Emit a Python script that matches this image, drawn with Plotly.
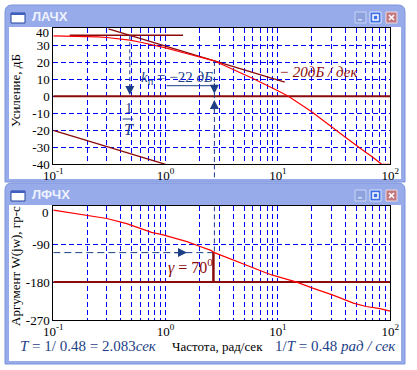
import math
import plotly.graph_objects as go

W, H = 417, 370


def px(x):
    return x / W


def py(y):
    return 1 - y / H


# ---------------- data ----------------
mag_w = [0.1, 0.15, 0.2, 0.25, 0.3, 0.4, 0.48, 0.6, 0.8, 1.0, 1.5, 2.0, 2.72, 3.3, 4.0,
         5.0, 6.0, 8.0, 10.0, 12.4, 15.0, 20.0, 25.0, 31.0, 41.0, 54.0, 70.0, 84.0, 100.0]
mag_db = [35.6, 35.5, 35.3, 35.0, 34.6, 33.8, 33.0, 31.8, 30.0, 28.5, 25.3, 23.1, 20.8, 18.3, 15.6,
          12.8, 10.5, 6.6, 3.3, 0.0, -3.6, -9.1, -14.0, -18.8, -24.7, -30.6, -35.8, -40.0, -40.0]

ph_w = [0.1, 0.2, 0.3, 0.45, 0.6, 0.75, 0.95, 1.2, 1.55, 2.0, 2.5, 2.72, 3.3, 4.0, 5.0,
        6.0, 7.5, 8.8, 11.0, 14.7, 20.7, 31.0, 47.0, 61.0, 81.0, 100.0]
ph_deg = [-9, -21, -29, -41, -52, -62, -68, -76, -84, -95, -104, -110, -119, -128, -139,
          -147, -156, -163, -171, -180, -195, -211, -230, -238, -243, -249]

lf_asym_w = [0.14, 1.43]
lf_asym_db = [35.9, 35.9]
hf_asym_w = [0.31, 11.5]
hf_asym_db = [39.6, 8.3]
ref_w = [0.1, 1.0]
ref_db = [-20.0, -40.0]
full_w = [0.1, 100.0]
zero_db = [0.0, 0.0]
pi_deg = [-180.0, -180.0]

w_T = 0.48      # 1/T
w_c = 2.72      # crossover frequency
phase_c = -110  # phase at w_c
gamma = 70
k_p = -22

mag_ticks = [-40, -30, -20, -10, 0, 10, 20, 30, 40]
ph_ticks = [-270, -180, -90, 0]
decades = [0.1, 1, 10, 100]
decade_labels = ["10<sup>-1</sup>", "10<sup>0</sup>", "10<sup>1</sup>", "10<sup>2</sup>"]

# ---------------- colours / fonts ----------------
RED = "#ff0000"
DRED = "#8b0a0a"
NAVY = "#1d3f86"
GRID = "#0000ff"
FRAME = "#97abea"
FRAME_LINE = "#7d93dc"
SERIF = "Liberation Serif"
SANS = "Liberation Sans"

# layout geometry (pixels)
PX0, PX1 = 53.3, 390.2
TOP_Y0, TOP_Y1 = 28.3, 164.3
BOT_Y0, BOT_Y1 = 206.3, 320.0

# log grid values
grid_vals = []
for d in [0.1, 1, 10]:
    for m in range(1, 10):
        grid_vals.append(round(d * m, 6))
grid_vals.append(100)
grid_text = []
for v in grid_vals:
    if v in decades:
        grid_text.append(decade_labels[decades.index(v)])
    else:
        grid_text.append("")

fig = go.Figure()

# ---------------- top plot traces ----------------
fig.add_trace(go.Scatter(x=full_w, y=zero_db, mode="lines", line=dict(color=DRED, width=2),
                         xaxis="x", yaxis="y"))
fig.add_trace(go.Scatter(x=ref_w, y=ref_db, mode="lines", line=dict(color=DRED, width=1.3),
                         xaxis="x", yaxis="y"))
fig.add_trace(go.Scatter(x=lf_asym_w, y=lf_asym_db, mode="lines", line=dict(color=DRED, width=1.3),
                         xaxis="x", yaxis="y"))
fig.add_trace(go.Scatter(x=hf_asym_w, y=hf_asym_db, mode="lines", line=dict(color=DRED, width=1.3),
                         xaxis="x", yaxis="y"))
fig.add_trace(go.Scatter(x=mag_w, y=mag_db, mode="lines", line=dict(color=RED, width=1.2),
                         xaxis="x", yaxis="y"))
# 1/T marker
fig.add_trace(go.Scatter(x=[w_T, w_T], y=[lf_asym_db[0], 3], mode="lines",
                         line=dict(color=NAVY, width=1, dash="4px,3px"), xaxis="x", yaxis="y"))
# crossover marker (top)
fig.add_trace(go.Scatter(x=[w_c, w_c], y=[20.8, -40], mode="lines",
                         line=dict(color=NAVY, width=1, dash="5px,3px"), xaxis="x", yaxis="y"))

# ---------------- bottom plot traces ----------------
fig.add_trace(go.Scatter(x=full_w, y=pi_deg, mode="lines", line=dict(color=DRED, width=2),
                         xaxis="x2", yaxis="y2"))
fig.add_trace(go.Scatter(x=[full_w[0], w_c], y=[phase_c, phase_c], mode="lines",
                         line=dict(color=NAVY, width=1, dash="7px,4px"), xaxis="x2", yaxis="y2"))
fig.add_trace(go.Scatter(x=[w_c, w_c], y=[0, phase_c], mode="lines",
                         line=dict(color=NAVY, width=1, dash="5px,3px"), xaxis="x2", yaxis="y2"))
fig.add_trace(go.Scatter(x=[w_c * 0.98, w_c * 0.98], y=[phase_c, -180], mode="lines",
                         line=dict(color=DRED, width=2.5), xaxis="x2", yaxis="y2"))
fig.add_trace(go.Scatter(x=ph_w, y=ph_deg, mode="lines", line=dict(color=RED, width=1.2),
                         xaxis="x2", yaxis="y2"))

# ---------------- axes ----------------
xd = [px(PX0), px(PX1)]
common_x = dict(type="log", range=[-1, 2], tickmode="array", tickvals=grid_vals, ticktext=grid_text,
                showgrid=True, gridcolor=GRID, gridwidth=1, griddash="5px,3px",
                showline=True, mirror=True, linecolor="black", linewidth=1, ticks="",
                zeroline=False, tickfont=dict(family=SERIF, size=13, color="black"), domain=xd,
                automargin=False, ticklabelstandoff=-1)
common_y = dict(showgrid=True, gridcolor=GRID, griddash="5px,3px", showline=True, mirror=True,
                linecolor="black", linewidth=1, ticks="", zeroline=False, automargin=False,
                tickfont=dict(family=SERIF, size=13, color="black"), tickmode="array")
fig.update_layout(
    xaxis=dict(common_x, anchor="y"),
    xaxis2=dict(common_x, anchor="y2"),
    yaxis=dict(common_y, range=[-40, 40], domain=[py(TOP_Y1), py(TOP_Y0)],
               tickvals=mag_ticks, ticktext=[str(v) if v != 40 else "" for v in mag_ticks], anchor="x"),
    yaxis2=dict(common_y, range=[-270, 0], domain=[py(BOT_Y1), py(BOT_Y0)],
                tickvals=ph_ticks, ticktext=[str(v) if v != 0 else "" for v in ph_ticks], anchor="x2"),
    width=W, height=H, autosize=False, margin=dict(l=0, r=0, t=0, b=0, autoexpand=False),
    paper_bgcolor="white", plot_bgcolor="white", showlegend=False,
)

# ---------------- window chrome ----------------
shapes = []


def rect(x0, y0, x1, y1, fill, line=None, lw=1, layer="below"):
    return dict(type="rect", xref="paper", yref="paper", x0=px(x0), x1=px(x1), y0=py(y1), y1=py(y0),
                fillcolor=fill, line=dict(color=line if line else fill, width=lw if line else 0),
                layer=layer)


def seg(x0, y0, x1, y1, color, width=1, dash="solid", layer="above"):
    return dict(type="line", xref="paper", yref="paper", x0=px(x0), x1=px(x1), y0=py(y0), y1=py(y1),
                line=dict(color=color, width=width, dash=dash), layer=layer)


def window(y0, y1, title_h):
    x0, x1, r = 5, 405, 7
    path = (f"M {px(x0)},{py(y1)} L {px(x0)},{py(y0 + r)} Q {px(x0)},{py(y0)} {px(x0 + r)},{py(y0)} "
            f"L {px(x1 - r)},{py(y0)} Q {px(x1)},{py(y0)} {px(x1)},{py(y0 + r)} L {px(x1)},{py(y1)} Z")
    s = [dict(type="path", xref="paper", yref="paper", path=path, fillcolor=FRAME,
              line=dict(color=FRAME_LINE, width=1), layer="below"),
         rect(9, y0 + title_h, 401, y1 - 3, "white")]
    # icon
    s.append(rect(11, y0 + 8, 25, y0 + 18, "white", "#23439f", 1))
    s.append(rect(11, y0 + 8, 25, y0 + 10, "#3f5fbf"))
    # buttons
    by0, by1 = y0 + 7, y0 + 18
    s.append(rect(355, by0, 366, by1, "#8ea2de", "#c9d4f3", 1))
    s.append(rect(358, by1 - 4, 362, by1 - 2.5, "#d9e1f7"))
    s.append(rect(370, by0, 381, by1, "#3f6fe4", "#dfe7ff", 1))
    s.append(dict(type="rect", xref="paper", yref="paper", x0=px(373), x1=px(378), y0=py(by1 - 3),
                  y1=py(by0 + 3), line=dict(color="white", width=1.5), layer="below"))
    s.append(rect(386, by0, 397, by1, "#c4787f", "#efd9dc", 1))
    s.append(seg(389, by0 + 3, 394, by1 - 3, "white", 1.6, layer="below"))
    s.append(seg(389, by1 - 3, 394, by0 + 3, "white", 1.6, layer="below"))
    return s


shapes += window(5, 182, 22)
shapes += window(183, 364, 22)

# crossover dashed line continues below top plot
xc = xd[0] + (math.log10(w_c) + 1) / 3 * (xd[1] - xd[0])
shapes.append(dict(type="line", xref="paper", yref="paper", x0=xc, x1=xc, y0=py(TOP_Y1), y1=py(180),
                   line=dict(color=NAVY, width=1, dash="5px,3px"), layer="above"))
# fraction bar of 1/T
shapes.append(seg(122.7, 119, 133.3, 119, NAVY, 1))
# underline of k_p expression
shapes.append(seg(166.7, 85.7, 213.3, 85.7, NAVY, 1))

fig.update_layout(shapes=shapes)

# ---------------- annotations ----------------
ann = []


def text(x, y, t, size=13, color="black", family=SERIF, xanchor="center", angle=0, yanchor="middle"):
    ann.append(dict(x=px(x), y=py(y), xref="paper", yref="paper", text=t, showarrow=False,
                    font=dict(size=size, color=color, family=family), xanchor=xanchor,
                    yanchor=yanchor, textangle=angle))


def arrow(xref, yref, x, y, ax, ay, color=NAVY):
    ann.append(dict(x=x, y=y, xref=xref, yref=yref, ax=ax, ay=ay, text="", showarrow=True,
                    arrowhead=2, arrowsize=1.5, arrowwidth=1.2, arrowcolor=color))


# window titles
text(30, 16.5, "<b>ЛАЧХ</b>", 13, "#eef2fd", SANS, "left")
text(30, 194.5, "<b>ЛФЧХ</b>", 13, "#eef2fd", SANS, "left")

# top-limit tick labels (drawn inside the frame like the original)
text(51, 33, str(mag_ticks[-1]), 13, "black", SERIF, "right")
text(51, 212, str(ph_ticks[-1]), 13, "black", SERIF, "right")

# axis titles
text(15, 91, "Усиление, дБ", 13, "black", SERIF, "center", -90)
text(15, 266, "Аргумент W(jw), гр-с", 13, "black", SERIF, "center", -90)

text(318, 72, "<i>− 20дБ / дек</i>", 15, DRED, SERIF)
text(177, 78, f"<i>k</i><sub>п</sub> = −{abs(k_p)} <i>дБ</i>", 15, NAVY, SERIF)
text(128.7, 108, "1", 15, NAVY, SERIF)
text(128.7, 129, "<i>T</i>", 16, NAVY, SERIF)
text(190, 266.5, f"<i>γ</i> = {gamma}<sup>0</sup>", 16, DRED, SERIF)

text(88, 346, f"<i>T</i> = 1/ {w_T} = {1 / w_T:.3f}<i>сек</i>", 15, NAVY, SERIF)
text(217, 346.5, "Частота, рад/сек", 13, "black", SERIF)
text(335, 346, f"1/<i>T</i> = {w_T} <i>рад / сек</i>", 15, NAVY, SERIF)

# arrow heads
lwT = math.log10(w_T)
lwc = math.log10(w_c)
arrow("x", "y", lwT, 0.8, 0, -12)
arrow("x", "y", lwc, 1.5, 0, -12)
arrow("x", "y", lwc, -2.2, 0, 12)
arrow("x2", "y2", math.log10(1.55), phase_c, -14, 0)

fig.update_layout(annotations=ann)

fig.write_html("out.html", config={"displayModeBar": False},
               post_script="document.body.style.margin='0px';document.body.style.overflow='hidden';")
